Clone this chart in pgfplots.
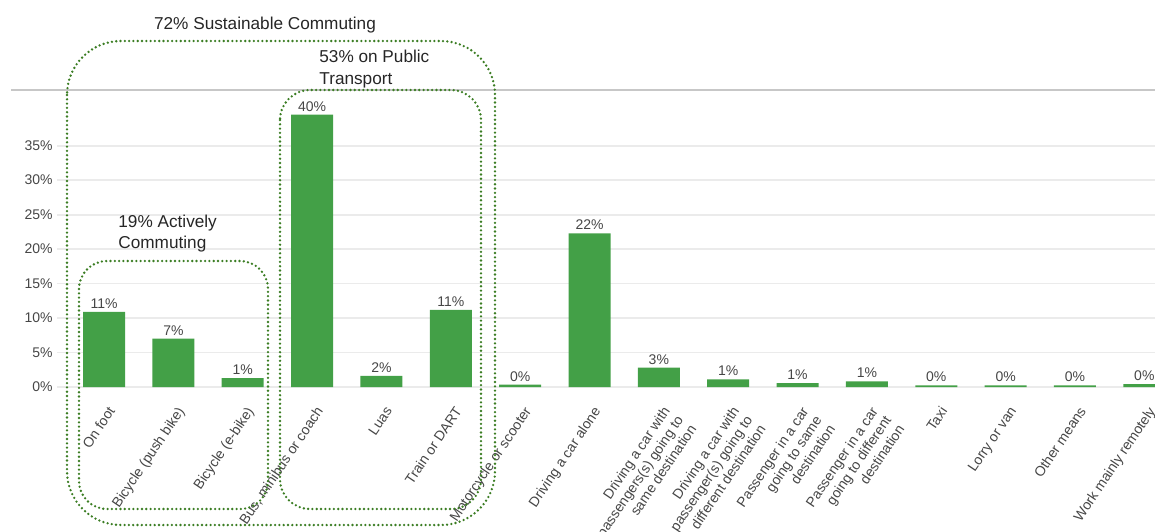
\documentclass[border=0pt]{standalone}
\usepackage{pgfplots}
\pgfplotsset{compat=1.18}
\usepackage{fontspec}
\setmainfont{Liberation Sans}
\definecolor{barGreen}{HTML}{43A047}
\definecolor{dotGreen}{HTML}{3B7D23}
\definecolor{txtGray}{HTML}{464646}
\definecolor{gridGray}{HTML}{EBEBEB}
\begin{document}
\begin{tikzpicture}
\useasboundingbox (-28.5pt,-72pt) rectangle (549pt,193.5pt);
\draw[color=black!22, line width=0.6pt] (-23pt,148.5pt) -- (551.5pt,148.5pt);
\begin{axis}[
  at={(0pt,0pt)}, anchor=south west,
  scale only axis, width=556.5pt, height=148.5pt,
  xmin=-0.678, xmax=15.37, ymin=0, ymax=43.08,
  enlargelimits=false, clip=false,
  axis line style={draw=none},
  major tick length=0pt,
  ymajorgrids, grid style={gridGray, line width=0.9pt},
  ytick={0,5,10,15,20,25,30,35},
  yticklabels={0\%,5\%,10\%,15\%,20\%,25\%,30\%,35\%},
  yticklabel style={font=\fontsize{7}{8}\selectfont, text=txtGray, anchor=east, inner sep=0pt, xshift=-2pt},
  xtick={0,1,2,3,4,5,6,7,8,9,10,11,12,13,14,15},
  xticklabels={{On foot},{Bicycle (push bike)},{Bicycle (e-bike)},{Bus, minibus or coach},{Luas},{Train or DART},{Motorcycle or scooter},{Driving a car alone},{Driving a car with\\passengers(s) going to\\same destination},{Driving a car with\\passenger(s) going to\\different destination},{Passenger in a car\\going to same\\destination},{Passenger in a car\\going to different\\destination},{Taxi},{Lorry or van},{Other means},{Work mainly remotely}},
  xticklabel style={font=\fontsize{7}{8}\selectfont, text=txtGray, align=right, xshift=1.5pt, yshift=-9pt, rotate=56, anchor=north east, inner sep=0pt},
]
\addplot[ybar, bar width=21pt, bar shift=0pt, fill=barGreen, draw=none,
  nodes near coords={\pgfplotspointmeta\%},
  point meta=explicit symbolic,
  nodes near coords style={font=\fontsize{7}{8}\selectfont, text=txtGray, anchor=south, inner sep=1.5pt}]
table[x=x, y=y, meta=lab] {
x y lab
0 10.9 11
1 7.0 7
2 1.3 1
3 39.5 40
4 1.6 2
5 11.2 11
6 0.35 0
7 22.3 22
8 2.8 3
9 1.1 1
10 0.55 1
11 0.83 1
12 0.25 0
13 0.25 0
14 0.25 0
15 0.4 0
};
\end{axis}
\begin{scope}[dotGreen, line width=1.3pt, line cap=round, dash pattern=on 0pt off 2.15pt]
\draw[rounded corners=27pt] (5pt,173pt) rectangle (219pt,-69pt);
\draw[rounded corners=15pt] (111.5pt,148.5pt) rectangle (212pt,-61pt);
\draw[rounded corners=14pt] (11pt,63pt) rectangle (105.5pt,-61pt);
\end{scope}
\begin{scope}[font=\fontsize{8.6}{10}\selectfont, text=black!85, inner sep=0pt]
\node[anchor=base] at (104pt,178.8pt) {72\% Sustainable Commuting};
\node[anchor=base west] at (131pt,162pt) {53\% on Public};
\node[anchor=base west] at (131pt,151pt) {Transport};
\node[anchor=base west] at (30.5pt,80pt) {19\% Actively};
\node[anchor=base west] at (30.5pt,69.35pt) {Commuting};
\end{scope}
\end{tikzpicture}
\end{document}
